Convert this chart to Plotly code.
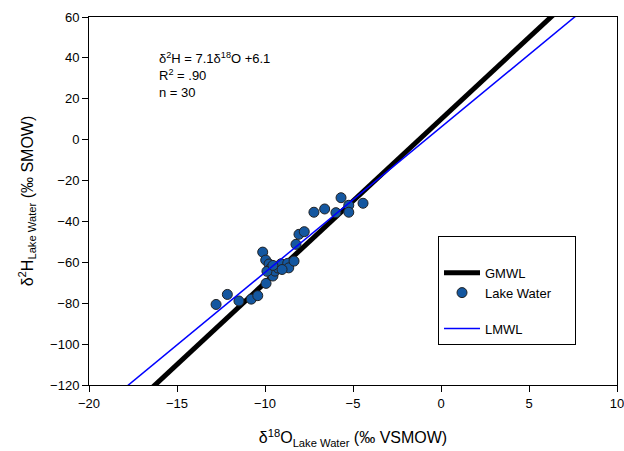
import plotly.graph_objects as go

# Lake water isotope data (δ18O, δ2H)
d18O = [-12.78, -12.14, -11.48, -10.78, -10.41, -9.94, -10.13, -9.96, -9.77, -9.66,
        -9.55, -9.43, -9.26, -9.09, -8.71, -8.65, -8.35, -8.24, -8.07, -7.77,
        -7.22, -6.61, -5.97, -5.68, -5.24, -5.24, -4.43, -9.89, -9.03, -9.55]
d2H = [-80.6, -75.7, -78.9, -78.0, -76.3, -70.3, -55.0, -58.9, -60.8, -62.8,
       -66.7, -64.3, -62.8, -60.7, -60.5, -62.7, -59.4, -51.2, -46.3, -45.0,
       -35.5, -33.9, -35.7, -28.4, -32.1, -35.5, -31.1, -64.4, -63.5, -61.5]

# Meteoric water lines: slope, intercept
gmwl_slope, gmwl_int = 8.0, 10.0
lmwl_slope, lmwl_int = 7.1, 6.1
line_x = [-20, 10]

x_ticks = [-20, -15, -10, -5, 0, 5, 10]
y_ticks = [-120, -100, -80, -60, -40, -20, 0, 20, 40, 60]

FONT = "Arial, Liberation Sans, sans-serif"

fig = go.Figure()
fig.add_trace(go.Scatter(
    x=line_x, y=[gmwl_slope * v + gmwl_int for v in line_x], mode="lines",
    name="GMWL", line=dict(color="black", width=5), legendgroup="a"))
fig.add_trace(go.Scatter(
    x=d18O, y=d2H, mode="markers", name="Lake Water&nbsp;&nbsp;&nbsp;&nbsp;&nbsp;",
    legendgroup="a",
    marker=dict(size=10, color="#1457A0", line=dict(color="#222222", width=1))))
fig.add_trace(go.Scatter(
    x=line_x, y=[lmwl_slope * v + lmwl_int for v in line_x], mode="lines",
    name="LMWL", line=dict(color="#0000FF", width=1.5), legendgroup="b"))

fig.add_annotation(
    xref="paper", yref="paper", x=0.129, y=0.915, xanchor="left", yanchor="top",
    align="left", showarrow=False,
    text="δ<sup>2</sup>H = 7.1δ<sup>18</sup>O +6.1<br>R<sup>2</sup> = .90<br>n = 30",
    font=dict(family=FONT, size=13, color="black"))

axis_common = dict(
    showgrid=False, zeroline=False, showline=True, linecolor="black", linewidth=1,
    mirror=True, ticks="outside", ticklen=6, tickcolor="black", automargin=False,
    ticklabeloverflow="allow",
    tickfont=dict(family=FONT, size=13, color="black"))

fig.update_xaxes(range=[-20, 10], tickvals=x_ticks,
                 title=dict(text="δ<sup>18</sup>O<sub>Lake Water</sub> (‰ VSMOW)",
                            font=dict(family=FONT, size=16, color="black"), standoff=22),
                 **axis_common)
fig.update_yaxes(range=[-120, 60], tickvals=y_ticks,
                 title=dict(text="δ<sup>2</sup>H<sub>Lake Water</sub> (‰ SMOW)",
                            font=dict(family=FONT, size=16, color="black"), standoff=12),
                 **axis_common)

fig.update_layout(
    width=624, height=451,
    margin=dict(l=89, r=7, t=17, b=66),
    paper_bgcolor="white", plot_bgcolor="white",
    showlegend=True,
    legend=dict(
        x=0.661, y=0.405, xanchor="left", yanchor="top",
        bgcolor="white", bordercolor="black", borderwidth=1,
        font=dict(family=FONT, size=13, color="black"),
        traceorder="grouped", tracegroupgap=16,
        title=dict(text=" ", font=dict(size=16)),
        itemwidth=36),
)

# remove the page's default body margin so the figure fills the window exactly
fig.write_html("out.html",
               config={"displayModeBar": False},
               post_script="document.body.style.margin='0';document.body.style.overflow='hidden';")
